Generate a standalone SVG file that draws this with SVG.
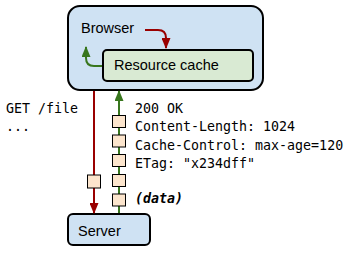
<svg xmlns="http://www.w3.org/2000/svg" width="349" height="253" viewBox="0 0 349 253">
<defs>
<style>
.box{stroke:#000;stroke-width:2}
.lbl{font-family:Arial,"Liberation Sans",sans-serif;font-size:14.5px;fill:#000}
.mono{font-family:"DejaVu Sans Mono","Liberation Mono",monospace;font-size:13.3px;fill:#000}
.red{stroke:#990000;stroke-width:2;fill:none}
.green{stroke:#38761d;stroke-width:2;fill:none}
.pkt{fill:#fce5cd;stroke:#000;stroke-width:1}
</style>
<marker id="ar" viewBox="0 0 11 9" refX="10" refY="4.5" markerWidth="5.5" markerHeight="4.5" orient="auto" markerUnits="strokeWidth"><path d="M0,0L11,4.5L0,9z" fill="#990000"/></marker>
<marker id="ag" viewBox="0 0 11 9" refX="10" refY="4.5" markerWidth="5.5" markerHeight="4.5" orient="auto" markerUnits="strokeWidth"><path d="M0,0L11,4.5L0,9z" fill="#38761d"/></marker>
</defs>
<g id="browser">
<rect class="box" x="68" y="6" width="195" height="84" rx="12" fill="#cfe2f3"/>
<text class="lbl" x="81" y="33">Browser</text>
</g>
<g id="cache">
<rect class="box" x="103" y="50" width="150" height="31" rx="4" fill="#d9ead3"/>
<text class="lbl" x="114" y="70">Resource cache</text>
</g>
<g id="server">
<rect class="box" x="68" y="214" width="82" height="31" rx="5" fill="#cfe2f3"/>
<text class="lbl" x="78" y="236">Server</text>
</g>
<g id="connectors">
<path class="red" d="M145,30 H158 Q166,30 166,38 V48" marker-end="url(#ar)"/>
<path class="green" d="M102,66 H94 Q86,66 86,58 V47" marker-end="url(#ag)"/>
<line class="red" x1="94" y1="91" x2="94" y2="213" marker-end="url(#ar)"/>
<line class="green" x1="119" y1="213" x2="119" y2="91" marker-end="url(#ag)"/>
</g>
<g id="packets">
<rect class="pkt" x="112.5" y="115.5" width="13" height="12"/>
<rect class="pkt" x="112.5" y="135" width="13" height="12"/>
<rect class="pkt" x="112.5" y="154.5" width="13" height="12"/>
<rect class="pkt" x="112.5" y="174.5" width="13" height="12"/>
<rect class="pkt" x="112.5" y="194" width="13" height="12"/>
<rect class="pkt" x="87.5" y="175" width="13" height="13"/>
</g>
<g id="texts">
<text class="mono" x="6" y="113">GET /file</text>
<text class="mono" x="6" y="131">...</text>
<text class="mono" x="135" y="113">200 OK</text>
<text class="mono" x="135" y="131">Content-Length: 1024</text>
<text class="mono" x="135" y="149.5">Cache-Control: max-age=120</text>
<text class="mono" x="135" y="168">ETag: "x234dff"</text>
<text class="mono" x="135" y="203" font-weight="bold" font-style="italic">(data)</text>
</g>
</svg>
